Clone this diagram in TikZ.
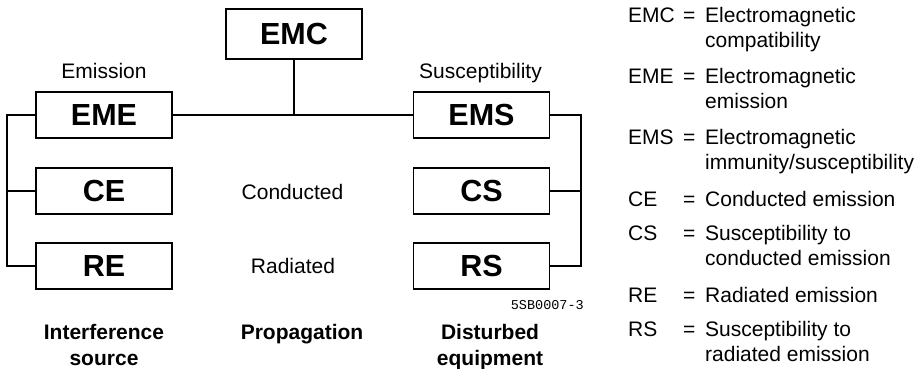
\documentclass[tikz,border=0pt]{standalone}
\usepackage{fontspec}
\setmainfont{Liberation Sans}
\newfontfamily\monofnt{Liberation Mono}
\begin{document}
\begin{tikzpicture}[x=1pt,y=-1pt,
  box/.style={draw,line width=1.5pt,minimum width=136pt,minimum height=46pt,inner sep=0pt,
    font=\fontsize{30.5}{32}\selectfont\bfseries},
  conn/.style={line width=1.1pt},
  lbl/.style={anchor=base,inner sep=0pt,font=\fontsize{21}{24}\selectfont},
  blbl/.style={anchor=base,inner sep=0pt,font=\fontsize{21}{24}\selectfont\bfseries},
  leg/.style={anchor=base west,inner sep=0pt,font=\fontsize{21}{24}\selectfont}]
\useasboundingbox (0,0) rectangle (924,369);
% boxes
\node[box,minimum height=50pt] (EMC) at (294,34) {EMC};
\node[box] (EME) at (104,115) {EME};
\node[box] (CE) at (104,191) {CE};
\node[box] (RE) at (104,266) {RE};
\node[box] (EMS) at (481.5,115) {EMS};
\node[box] (CS) at (481.5,191) {CS};
\node[box] (RS) at (481.5,266) {RS};
% connectors
\coordinate (lb) at (7,115);
\coordinate (rb) at (581,115);
\draw[conn] (EME.east) -- (EMS.west);
\draw[conn] (EMC.south) -- (EMC.south |- EME.east);
\draw[conn] (EME.west) -- (lb) |- (RE.west);
\draw[conn] (CE.west) -- (CE.west -| lb);
\draw[conn] (EMS.east) -- (rb) |- (RS.east);
\draw[conn] (CS.east) -- (CS.east -| rb);
% labels
\node[lbl] (tEm) at (104,78) {Emission};
\node[lbl] (tSu) at (480.5,78) {Susceptibility};
\node[lbl] (tCo) at (292.5,199) {Conducted};
\node[lbl] (tRa) at (293,273.5) {Radiated};
\node[blbl] (tI1) at (104,339) {Interference};
\node[blbl] (tI2) at (104,365) {source};
\node[blbl] (tPr) at (302,339) {Propagation};
\node[blbl] (tD1) at (490,339) {Disturbed};
\node[blbl] (tD2) at (490,365) {equipment};
\node[anchor=base east,inner sep=0pt,font=\monofnt\fontsize{13.5}{15}\selectfont] (code) at (584,309) {5SB0007-3};
% legend
\node[leg] (a1) at (628,22.7) {EMC};
\node[leg] (e1) at (683,22.7) {=};
\node[leg] (d1) at (705,22.7) {Electromagnetic};
\node[leg] (d1b) at (705,47.7) {compatibility};
\node[leg] (a2) at (628,83.3) {EME};
\node[leg] (e2) at (683,83.3) {=};
\node[leg] (d2) at (705,83.3) {Electromagnetic};
\node[leg] (d2b) at (705,108.3) {emission};
\node[leg] (a3) at (628,144) {EMS};
\node[leg] (e3) at (683,144) {=};
\node[leg] (d3) at (705,144) {Electromagnetic};
\node[leg] (d3b) at (705,169) {immunity/susceptibility};
\node[leg] (a4) at (628,206.7) {CE};
\node[leg] (e4) at (683,206.7) {=};
\node[leg] (d4) at (705,206.7) {Conducted emission};
\node[leg] (a5) at (628,240) {CS};
\node[leg] (e5) at (683,240) {=};
\node[leg] (d5) at (705,240) {Susceptibility to};
\node[leg] (d5b) at (705,265) {conducted emission};
\node[leg] (a6) at (628,302) {RE};
\node[leg] (e6) at (683,302) {=};
\node[leg] (d6) at (705,302) {Radiated emission};
\node[leg] (a7) at (628,336) {RS};
\node[leg] (e7) at (683,336) {=};
\node[leg] (d7) at (705,336) {Susceptibility to};
\node[leg] (d7b) at (705,361) {radiated emission};
\end{tikzpicture}
\end{document}
